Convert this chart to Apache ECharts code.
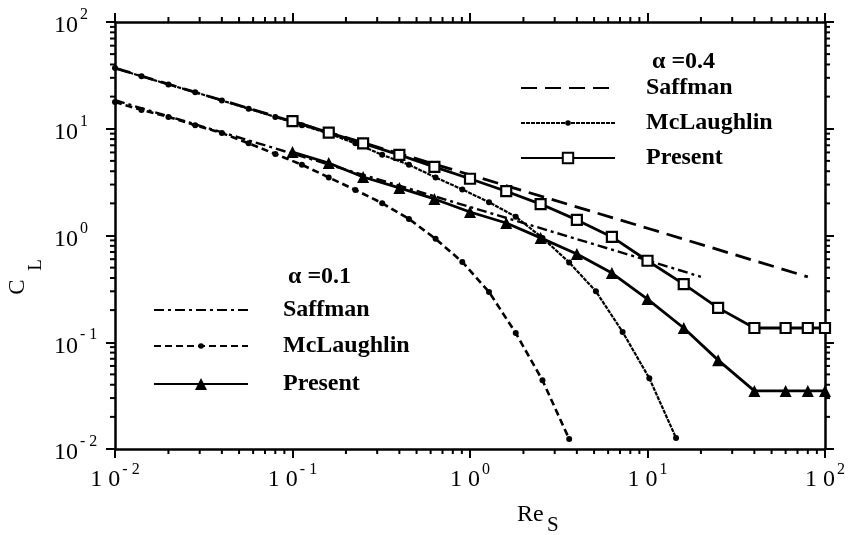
<!DOCTYPE html>
<html>
<head>
<meta charset="utf-8">
<script src="https://cdn.jsdelivr.net/npm/echarts@6/dist/echarts.min.js"></script>
<style>
  html, body { margin: 0; background: #fff; }
  #chart { width: 852px; height: 535px; }
</style>
</head>
<body>
<div id="chart"></div>
<script>
// --- data ---
const saffX04 = [0.01, 0.1, 1, 10, 80]
const saffY04 = [37, 11.7, 3.7, 1.17, 0.41]
const saffX01 = [0.01, 0.1, 1, 10, 20]
const saffY01 = [18.5, 5.85, 1.85, 0.585, 0.41]

const mclX = [0.01, 0.0141, 0.02, 0.0283, 0.04, 0.0566, 0.08, 0.113, 0.16, 0.226, 0.32,
  0.453, 0.64, 0.905, 1.28, 1.81, 2.56, 3.62, 5.12, 7.24, 10.24, 14.48]
const mclY04 = [37, 31, 26, 22, 18.4, 15.4, 12.9, 10.8, 9.0, 7.3, 5.7,
  4.6, 3.5, 2.7, 2.05, 1.5, 0.95, 0.56, 0.30, 0.125, 0.046, 0.0127]
const mclY01 = [17.8, 15.0, 12.9, 10.8, 9.1, 7.3, 5.8, 4.6, 3.5, 2.67, 2.01,
  1.43, 0.93, 0.565, 0.296, 0.122, 0.044, 0.0124]

const presX = [0.1, 0.16, 0.25, 0.4, 0.63, 1, 1.6, 2.5, 4, 6.3, 10, 16, 25, 40, 60, 80, 100]
const presY04 = [11.8, 9.2, 7.3, 5.7, 4.4, 3.4, 2.6, 1.97, 1.40, 0.97, 0.58, 0.35, 0.21,
  0.136, 0.136, 0.136, 0.136]
const presY01 = [6.05, 4.78, 3.53, 2.79, 2.20, 1.66, 1.31, 0.95, 0.67, 0.445, 0.254, 0.136,
  0.068, 0.035, 0.035, 0.035, 0.035]

const decades = [0.01, 0.1, 1, 10]
const minorMult = [2, 3, 4, 5, 6, 7, 8, 9]

function zip(xs, ys) {
  return ys.map((y, i) => [xs[i], y])
}

const minorTicks = []
decades.forEach(d => minorMult.forEach(m => minorTicks.push(+(d * m).toPrecision(3))))

const serif = 'Liberation Serif'
const black = '#000'

function powLabel(spaced, supPad, basePad) {
  return {
    formatter: v => {
      const e = Math.round(Math.log10(v))
      const sup = e < 0 ? '- ' + (-e) : '' + e
      return '{b|' + (spaced ? '1 0' : '10') + '}{s|' + sup + '}'
    },
    rich: {
      b: { fontFamily: serif, fontSize: 24, color: black, padding: [basePad, 0, 0, 0] },
      s: { fontFamily: serif, fontSize: 16, color: black, padding: [0, 0, supPad, 2] }
    }
  }
}

function legendRow(name, left, y, h, textPad, noMarker) {
  return {
    data: [noMarker ? { name, itemStyle: { opacity: 0 } } : name],
    left,
    top: y - 13,
    padding: 0,
    itemWidth: 94,
    itemHeight: h,
    selectedMode: false,
    formatter: n => n.split(' ')[0],
    textStyle: {
      fontFamily: serif, fontWeight: 'bold', fontSize: 24, lineHeight: 26,
      color: black, padding: [0, 0, 0, textPad]
    }
  }
}

function tickSeries(axis) {
  // minor log ticks on all four sides of the frame
  return {
    type: 'custom',
    silent: true,
    clip: false,
    data: minorTicks.map(v => (axis === 'x' ? [v, 1] : [1, v])),
    renderItem: (params, api) => {
      const v = api.value(axis === 'x' ? 0 : 1)
      const a = axis === 'x' ? api.coord([v, 0.01]) : api.coord([0.01, v])
      const b = axis === 'x' ? api.coord([v, 100]) : api.coord([100, v])
      const st = { stroke: black, lineWidth: 2 }
      const L = 5
      return {
        type: 'group',
        children: axis === 'x'
          ? [
              { type: 'line', shape: { x1: a[0], y1: a[1], x2: a[0], y2: a[1] + L }, style: st },
              { type: 'line', shape: { x1: b[0], y1: b[1], x2: b[0], y2: b[1] - L }, style: st }
            ]
          : [
              { type: 'line', shape: { x1: a[0], y1: a[1], x2: a[0] - L, y2: a[1] }, style: st },
              { type: 'line', shape: { x1: b[0], y1: b[1], x2: b[0] + L, y2: b[1] }, style: st }
            ]
      }
    }
  }
}

const axisBase = {
  type: 'log',
  logBase: 10,
  min: 0.01,
  max: 100,
  axisLine: { lineStyle: { color: black, width: 2.5 } },
  axisTick: { show: true, length: 9, lineStyle: { color: black, width: 2 } },
  splitLine: { show: false }
}

const chart = echarts.init(document.getElementById('chart'))

chart.setOption({
  backgroundColor: '#fff',
  animation: false,
  color: [black],
  grid: { left: 115, right: 27, top: 22, bottom: 86 },
  xAxis: [
    Object.assign({}, axisBase, {
      position: 'bottom',
      axisLabel: Object.assign({ margin: 13 }, powLabel(true, 20, 0))
    }),
    Object.assign({}, axisBase, { position: 'top', axisLabel: { show: false } })
  ],
  yAxis: [
    Object.assign({}, axisBase, {
      position: 'left',
      axisLabel: Object.assign({ margin: 61, align: 'left' }, powLabel(false, 14, 8))
    }),
    Object.assign({}, axisBase, { position: 'right', axisLabel: { show: false } })
  ],
  legend: [
    legendRow('Saffman α=0.4', 520, 88, 12, 26, true),
    legendRow('McLaughlin α=0.4', 520, 123, 7, 26),
    legendRow('Present α=0.4', 520, 158, 13, 26),
    legendRow('Saffman α=0.1', 153, 310, 12, 30, true),
    legendRow('McLaughlin α=0.1', 153, 346, 7, 30),
    legendRow('Present α=0.1', 153, 384, 15, 30)
  ],
  graphic: [
    { type: 'text', x: 652, y: 62, style: { text: 'α =0.4', font: 'bold 24px "Liberation Serif"', fill: black, verticalAlign: 'middle' } },
    { type: 'text', x: 288, y: 277, style: { text: 'α =0.1', font: 'bold 24px "Liberation Serif"', fill: black, verticalAlign: 'middle' } },
    { type: 'text', x: 17.5, y: 287, rotation: Math.PI / 2, style: { text: 'C', font: '23px "Liberation Serif"', fill: black, align: 'center', verticalAlign: 'middle' } },
    { type: 'text', x: 36, y: 265, rotation: Math.PI / 2, style: { text: 'L', font: '19px "Liberation Serif"', fill: black, align: 'center', verticalAlign: 'middle' } },
    { type: 'text', x: 517, y: 515, style: { text: 'Re', font: '24px "Liberation Serif"', fill: black, verticalAlign: 'middle' } },
    { type: 'text', x: 547, y: 525, style: { text: 'S', font: '21px "Liberation Serif"', fill: black, verticalAlign: 'middle' } }
  ],
  series: [
    tickSeries('x'),
    tickSeries('y'),
    {
      name: 'Saffman α=0.4', type: 'line', data: zip(saffX04, saffY04),
      symbol: 'none', clip: false,
      lineStyle: { color: black, width: 2.8, type: [16, 8] }
    },
    {
      name: 'Saffman α=0.1', type: 'line', data: zip(saffX01, saffY01),
      symbol: 'none', clip: false,
      lineStyle: { color: black, width: 2.4, type: [10, 4, 3, 4] }
    },
    {
      name: 'McLaughlin α=0.4', type: 'line', data: zip(mclX, mclY04),
      symbol: 'circle', symbolSize: 6, clip: false,
      itemStyle: { color: black },
      lineStyle: { color: black, width: 2.2, type: [4, 1] }
    },
    {
      name: 'McLaughlin α=0.1', type: 'line', data: zip(mclX, mclY01),
      symbol: 'circle', symbolSize: 6, clip: false,
      itemStyle: { color: black },
      lineStyle: { color: black, width: 2.6, type: [7, 4] }
    },
    {
      name: 'Present α=0.4', type: 'line', data: zip(presX, presY04),
      symbol: 'rect', symbolSize: 10, clip: false, z: 4,
      itemStyle: { color: '#fff', borderColor: black, borderWidth: 2.2 },
      lineStyle: { color: black, width: 2.8 }
    },
    {
      name: 'Present α=0.1', type: 'line', data: zip(presX, presY01),
      symbol: 'triangle', symbolSize: 12, clip: false, z: 4,
      itemStyle: { color: black },
      lineStyle: { color: black, width: 2.8 }
    }
  ]
})
</script>
</body>
</html>
